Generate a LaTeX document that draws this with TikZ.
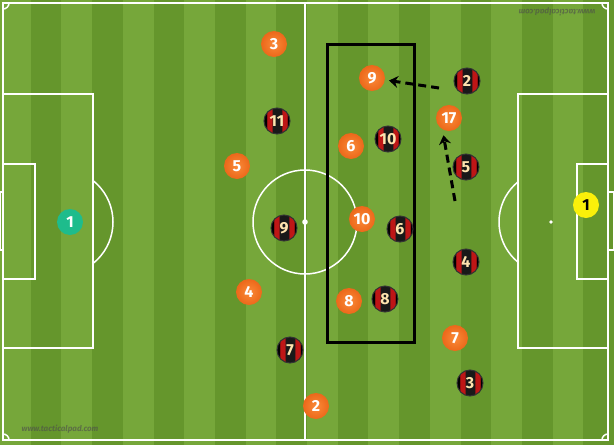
\documentclass[tikz,border=0pt]{standalone}
\usepackage{fontspec}
\setsansfont{Fira Sans}
\usetikzlibrary{arrows.meta}
\definecolor{grasslight}{RGB}{118,167,58}
\definecolor{grassdark}{RGB}{101,150,44}
\definecolor{shirtorange}{RGB}{236,104,26}
\definecolor{shirtlight}{RGB}{250,138,56}
\definecolor{milanred}{RGB}{190,22,22}
\definecolor{milantext}{RGB}{255,228,175}
\definecolor{keepgreen}{RGB}{30,188,140}
\definecolor{keepyellow}{RGB}{250,240,10}
\pgfdeclarehorizontalshading{milanstripes}{100bp}{color(0bp)=(black); color(30bp)=(black); color(31bp)=(milanred); color(40bp)=(milanred); color(41bp)=(black!90); color(59bp)=(black!90); color(60bp)=(milanred); color(69bp)=(milanred); color(70bp)=(black); color(100bp)=(black)}
\tikzset{
  player/.style={circle,minimum size=26pt,inner sep=0pt,font=\sffamily\bfseries\fontsize{16}{16}\selectfont},
  orangeman/.style={player,inner color=shirtlight,outer color=shirtorange,text=white},
  milanman/.style={player,shade,shading=milanstripes,draw=black!80,line width=1pt,text=milantext},
  greenkeeper/.style={player,fill=keepgreen,text=white},
  yellowkeeper/.style={player,fill=keepyellow,text=black},
  pitchline/.style={draw=white,line width=1.5pt},
  run/.style={black,line width=3pt,dash pattern=on 8pt off 5pt,-{Stealth[length=9pt,width=12pt,inset=3pt]}},
  watermark/.style={text=black!70,opacity=0.6,font=\sffamily\itshape\bfseries\fontsize{8}{8}\selectfont}
}
\begin{document}
\begin{tikzpicture}[x=1pt,y=-1pt]
  \useasboundingbox (0,0) rectangle (614,445);
  \fill[grasslight] (0,0) rectangle (614,445); % grass
  \foreach \i in {1,3,...,19}
    \fill[grassdark] ({\i*30.7},0) rectangle ({(\i+1)*30.7},445); % stripes
  \draw[pitchline] (3,3) rectangle (608,440); % touch lines
  \draw[pitchline] (305,3) -- (305,440); % half way line
  \draw[pitchline] (305,222) circle (52); % centre circle
  \fill[white] (305,222) circle (2.8);
  \draw[pitchline] (3,94) rectangle (93,348) (3,164) rectangle (35,279); % left boxes
  \draw[pitchline] (518,94) rectangle (608,348) (577,164) rectangle (608,279); % right boxes
  \draw[pitchline] (0,192) rectangle (3,250) (608,192) rectangle (614,250); % goals
  \fill[white] (60,222) circle (1.8) (551,222) circle (1.8); % penalty spots
  \begin{scope}
    \clip (93,0) rectangle (200,445);
    \draw[pitchline] (60,222) circle (53); % left arc
  \end{scope}
  \begin{scope}
    \clip (518,0) rectangle (420,445);
    \draw[pitchline] (551,222) circle (52); % right arc
  \end{scope}
  \begin{scope}
    \clip (3,3) rectangle (608,440);
    \foreach \c in {(3,3),(608,3),(3,440),(608,440)}
      \draw[pitchline] \c circle (6); % corners
  \end{scope}
  \node[watermark] (wmb) at (60,429) {www.tacticalpad.com};
  \node[watermark,rotate=180] (wmt) at (557,12) {www.tacticalpad.com};
  \draw[black,line width=3pt] (327,44) rectangle (414,342); % zone
  % orange team
  \node[orangeman] (o3) at (274,44) {3};
  \node[orangeman] (o9) at (372,78) {9};
  \node[orangeman] (o6) at (351,146) {6};
  \node[orangeman] (o5) at (237,166) {5};
  \node[orangeman] (o10) at (362,219) {10};
  \node[orangeman] (o17) at (449,118) {17};
  \node[orangeman] (o4) at (249,292) {4};
  \node[orangeman] (o8) at (349,301) {8};
  \node[orangeman] (o7) at (455,338) {7};
  \node[orangeman] (o2) at (316,406) {2};
  \node[greenkeeper] (gk1) at (70,222) {1};
  % red and black team
  \node[milanman] (r2) at (467,81) {2};
  \node[milanman] (r11) at (277,121) {11};
  \node[milanman] (r10) at (388,139) {10};
  \node[milanman] (r5) at (466,167) {5};
  \node[milanman] (r9) at (284,228) {9};
  \node[milanman] (r6) at (400,229) {6};
  \node[milanman] (r4) at (466,262) {4};
  \node[milanman] (r8) at (385,299) {8};
  \node[milanman] (r7) at (290,350) {7};
  \node[milanman] (r3) at (470,383) {3};
  \node[yellowkeeper] (gk2) at (586,205) {1};
  % runs
  \coordinate (s9) at (439,88);
  \coordinate (s17) at (455,201);
  \draw[run,shorten >=4pt] (s9) -- (o9);
  \draw[run,shorten >=6pt] (s17) -- (o17.-120);
\end{tikzpicture}
\end{document}
